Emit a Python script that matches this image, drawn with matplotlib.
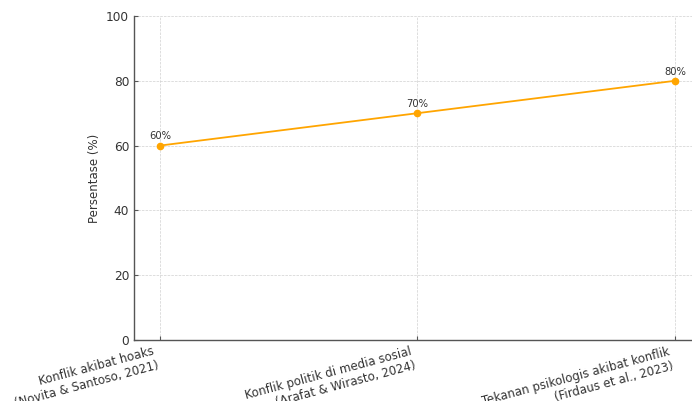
import matplotlib
matplotlib.use("Agg")
import matplotlib.pyplot as plt

categories = [
    "Konflik akibat hoaks\n(Novita & Santoso, 2021)",
    "Konflik politik di media sosial\n(Arafat & Wirasto, 2024)",
    "Tekanan psikologis akibat konflik\n(Firdaus et al., 2023)",
]
values = [60, 70, 80]
value_labels = ["60%", "70%", "80%"]
yticks = [0, 20, 40, 60, 80, 100]

text_color = "#333333"
spine_color = "#555555"

fig = plt.figure(figsize=(6.92, 4.01), dpi=100)
W, H = 692, 401
left, right, top, bottom = 134, 700.75, 16, 340
ax = fig.add_axes([left / W, (H - bottom) / H, (right - left) / W, (bottom - top) / H])

x = list(range(len(categories)))
ax.plot(x, values, color="#FFA500", linewidth=1.3, marker="o", markersize=4.5, zorder=3)
for xi, v, lab in zip(x, values, value_labels):
    ax.annotate(lab, (xi, v), xytext=(0, 3), textcoords="offset points",
                ha="center", va="bottom", fontsize=7.2, color=text_color)

ax.set_ylim(0, 100)
ax.set_xlim(-0.1, 2.1)
ax.set_yticks(yticks)
ax.set_xticks(x)
ax.set_xticklabels(categories, rotation=15, ha="right", fontsize=8.5, color=text_color)
ax.tick_params(axis="y", labelsize=8.7, labelcolor=text_color)
ax.tick_params(direction="in", length=3, width=0.8, color=spine_color)
ax.set_ylabel("Persentase (%)", fontsize=8.5, color=text_color)

ax.grid(True, linestyle="--", linewidth=0.5, color="#cccccc", alpha=0.9)
ax.set_axisbelow(True)
for s in ["top", "right"]:
    ax.spines[s].set_visible(False)
for s in ["left", "bottom"]:
    ax.spines[s].set_color(spine_color)
    ax.spines[s].set_linewidth(1.0)

fig.savefig("out.png", dpi=100)
